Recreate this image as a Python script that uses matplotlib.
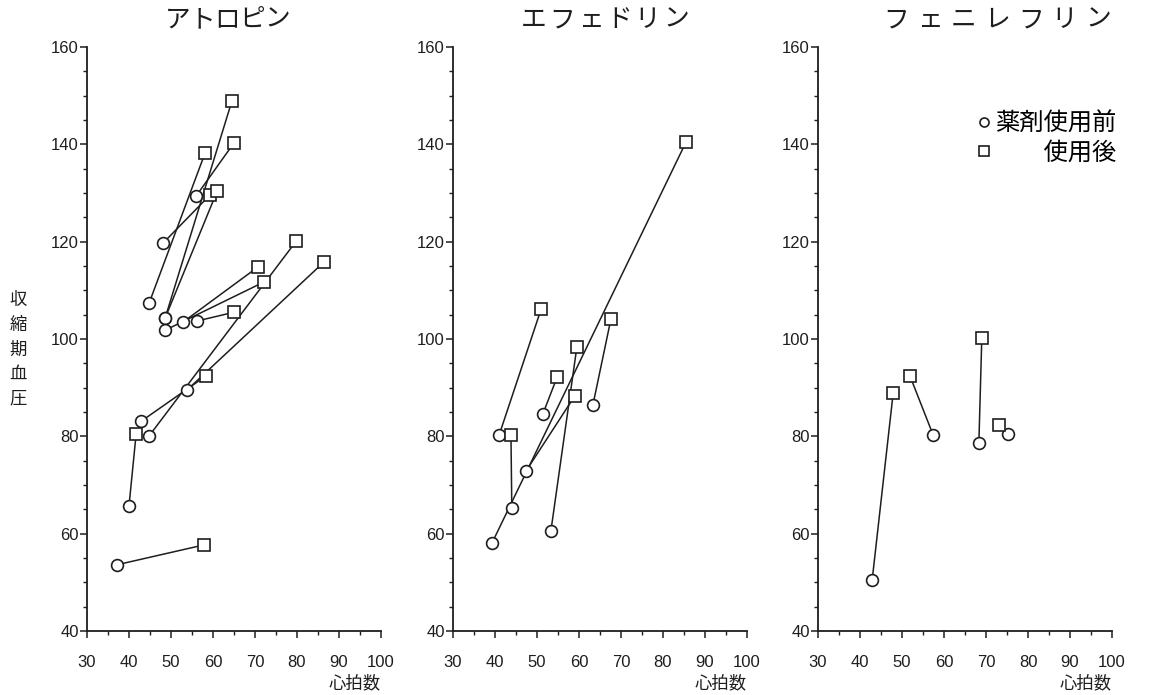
import numpy as np
import matplotlib
matplotlib.use('Agg')
import matplotlib.pyplot as plt
from matplotlib.lines import Line2D
from matplotlib.ticker import MultipleLocator

plt.rcParams['font.family'] = ['Liberation Sans', 'Noto Sans CJK JP']

# heart rate (心拍数) and systolic BP (収縮期血圧), before (○) and after (□)
titles = ['アトロピン', 'エフェドリン', 'フェニレフリン']

atropine_hr_pre = [44.8, 48.1, 56.0, 48.6, 48.6, 56.2, 52.9, 48.6, 42.9, 53.8, 44.8, 40.0, 37.1]
atropine_bp_pre = [107.4, 119.7, 129.4, 104.3, 104.3, 103.7, 103.5, 101.8, 83.1, 89.5, 80.1, 65.7, 53.6]
atropine_hr_post = [58.1, 59.3, 65.0, 64.5, 61.0, 65.0, 70.7, 72.1, 58.3, 86.4, 79.8, 41.7, 57.9]
atropine_bp_post = [138.2, 129.6, 140.3, 148.9, 130.4, 105.5, 114.8, 111.7, 92.4, 115.8, 120.1, 80.5, 57.7]

ephedrine_hr_pre = [41.0, 51.4, 63.3, 53.3, 44.0, 39.3, 47.4]
ephedrine_bp_pre = [80.3, 84.6, 86.4, 60.5, 65.3, 58.1, 72.9]
ephedrine_hr_post = [51.0, 54.8, 67.6, 59.5, 43.8, 85.5, 59.0]
ephedrine_bp_post = [106.2, 92.2, 104.1, 98.4, 80.3, 140.5, 88.3]

phenyl_hr_pre = [42.9, 57.4, 68.3, 75.2]
phenyl_bp_pre = [50.5, 80.3, 78.6, 80.5]
phenyl_hr_post = [47.9, 51.9, 69.0, 73.1]
phenyl_bp_post = [88.9, 92.4, 100.2, 82.3]

panels = [
    (atropine_hr_pre, atropine_bp_pre, atropine_hr_post, atropine_bp_post),
    (ephedrine_hr_pre, ephedrine_bp_pre, ephedrine_hr_post, ephedrine_bp_post),
    (phenyl_hr_pre, phenyl_bp_pre, phenyl_hr_post, phenyl_bp_post),
]

ink = '#1e1e1e'
W, H = 1169, 695
fig = plt.figure(figsize=(W / 100, H / 100), dpi=100, facecolor='w')
lefts = [87, 453, 818]
# titles are letter-spaced: first / last character centres in pixels
title_span = [(178, 277), (534, 676), (896, 1098)]

for i, (hr0, bp0, hr1, bp1) in enumerate(panels):
    ax = fig.add_axes([lefts[i] / W, 64 / H, 294 / W, 584 / H])
    # each subject: line from before to after
    ax.plot(np.array([hr0, hr1]), np.array([bp0, bp1]), color=ink, lw=1.1, zorder=1)
    ax.plot(hr0, bp0, 'o', ms=8.5, mfc='white', mec=ink, mew=1.2, zorder=3)
    ax.plot(hr1, bp1, 's', ms=8, mfc='white', mec=ink, mew=1.2, zorder=3)

    ax.set_xlim(30, 100)
    ax.set_ylim(40, 160)
    ax.xaxis.set_major_locator(MultipleLocator(10))
    ax.xaxis.set_minor_locator(MultipleLocator(5))
    ax.yaxis.set_major_locator(MultipleLocator(20))
    ax.yaxis.set_minor_locator(MultipleLocator(5))
    ax.tick_params(which='major', direction='out', length=5, width=1.1, labelsize=12, colors=ink)
    ax.tick_params(axis='x', which='major', pad=12)
    ax.tick_params(axis='y', which='major', pad=1)
    ax.tick_params(which='minor', direction='out', length=3, width=1.0, colors=ink)
    for spine in ('top', 'right'):
        ax.spines[spine].set_visible(False)
    for spine in ('left', 'bottom'):
        ax.spines[spine].set_linewidth(1.3)
        ax.spines[spine].set_color(ink)

    chars = titles[i]
    xs = np.linspace(title_span[i][0], title_span[i][1], len(chars))
    for ch, xp in zip(chars, xs):
        fig.text(xp / W, 1 - 20 / H, ch, ha='center', va='center', fontsize=18.5, color=ink)

    ax.text(1.0, -0.089, '心拍数', transform=ax.transAxes, ha='right', va='center',
            fontsize=12.5, color=ink)

    if i == 2:
        handles = [Line2D([], [], ls='none', marker='o', ms=6.5, mfc='white', mec=ink, mew=1.2),
                   Line2D([], [], ls='none', marker='s', ms=6.5, mfc='white', mec=ink, mew=1.2)]
        ax.legend(handles, ['薬剤使用前', '\u3000\u3000使用後'], loc='upper right',
                  bbox_to_anchor=(1.013, 0.888), frameon=False, fontsize=17.5,
                  handlelength=0.5, handletextpad=0.2, labelspacing=0.25,
                  borderpad=0, borderaxespad=0)

fig.text(18 / W, 0.498, '\n'.join('収縮期血圧'), ha='center', va='center',
         fontsize=12.5, linespacing=1.7, color=ink)

fig.savefig('out.png', dpi=100, facecolor='w')
